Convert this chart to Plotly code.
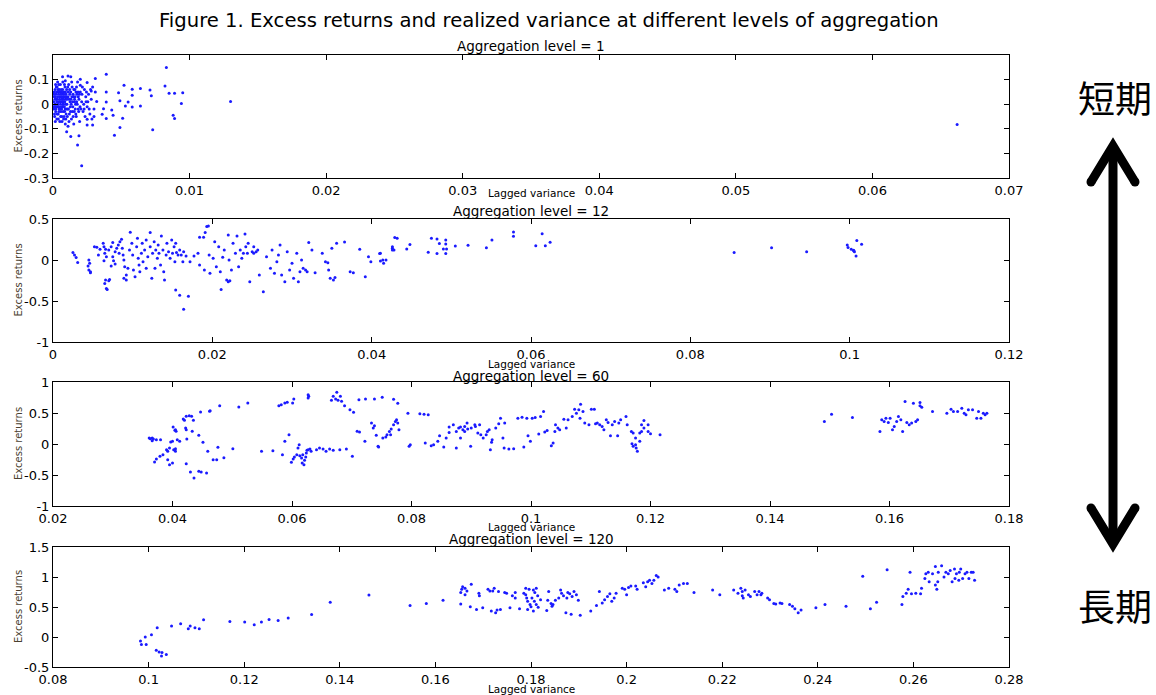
import plotly.graph_objects as go

W, H = 1156, 695

fig_title = "Figure 1. Excess returns and realized variance at different levels of aggregation"
levels = [1, 12, 60, 120]
x_label = "Lagged variance"
y_label = "Excess returns"
short_label = "短期"
long_label = "長期"

# (lagged variance, excess return) at aggregation level 1
level_1_points = [
    (0.0083, 0.149), (0.0130, 0.011), (0.0082, 0.074), (0.0085, 0.045), (0.0089, 0.045),
    (0.0095, 0.047), (0.0094, 0.003), (0.0088, -0.045), (0.0089, -0.058), (0.0073, -0.104),
    (0.0071, 0.058), (0.0072, 0.034), (0.0064, 0.064), (0.0064, -0.007), (0.0058, 0.061),
    (0.0058, 0.036), (0.0052, 0.077), (0.0055, 0.009), (0.0053, -0.007), (0.0058, -0.011),
    (0.0049, 0.014), (0.0048, 0.047), (0.0045, -0.126), (0.0049, -0.095), (0.0051, -0.057),
    (0.0044, -0.045), (0.0043, -0.024), (0.0039, 0.122), (0.0039, 0.050), (0.0039, 0.009),
    (0.0037, -0.018), (0.0036, -0.041), (0.0039, -0.058), (0.0032, 0.011), (0.0031, 0.050),
    (0.0031, 0.104), (0.0025, 0.088), (0.0028, 0.054), (0.0030, -0.050), (0.0029, -0.085),
    (0.0025, -0.085), (0.0025, -0.061), (0.0021, -0.250), (0.0018, -0.166), (0.0019, -0.128),
    (0.0013, -0.131), (0.0010, -0.112), (0.0011, -0.090), (0.0007, 0.112), (0.0011, 0.115),
    (0.0013, 0.112), (0.0009, 0.095), (0.0020, 0.101), (0.0020, 0.077), (0.0662, -0.083),
    (0.00005, 0.01), (0.00008, -0.02), (0.00010, 0.03), (0.00012, -0.05), (0.00015, 0.06),
    (0.00018, 0.00), (0.00020, -0.03), (0.00022, 0.04), (0.00025, 0.02), (0.00028, -0.06),
    (0.00030, 0.07), (0.00032, -0.01), (0.00035, 0.05), (0.00038, -0.04), (0.00040, 0.01),
    (0.00042, 0.08), (0.00045, -0.02), (0.00048, 0.03), (0.00050, -0.07), (0.00052, 0.05),
    (0.00055, 0.00), (0.00058, -0.03), (0.00060, 0.06), (0.00062, 0.02), (0.00065, -0.05),
    (0.00068, 0.04), (0.00070, -0.01), (0.00072, 0.09), (0.00075, 0.03), (0.00078, -0.06),
    (0.00080, 0.01), (0.00082, 0.05), (0.00085, -0.03), (0.00088, 0.07), (0.00090, -0.08),
    (0.00092, 0.02), (0.00095, 0.04), (0.00098, -0.02), (0.00100, 0.06), (0.00105, -0.05),
    (0.00110, 0.03), (0.00115, 0.08), (0.00120, -0.04), (0.00125, 0.01), (0.00130, 0.05),
    (0.00135, -0.06), (0.00140, 0.07), (0.00145, -0.01), (0.00150, 0.03), (0.00155, -0.03),
    (0.00160, 0.06), (0.00165, 0.00), (0.00170, -0.05), (0.00175, 0.04), (0.00180, 0.09),
    (0.00185, -0.02), (0.00190, 0.02), (0.00195, -0.07), (0.00200, 0.05), (0.00210, 0.01),
    (0.00220, -0.03), (0.00230, 0.06), (0.00240, 0.03), (0.00250, -0.01), (0.00260, 0.04),
    (0.00270, -0.04), (0.00280, 0.02), (0.00290, 0.07), (0.00300, -0.02),
    (0.00007, 0.04), (0.00011, -0.04), (0.00014, 0.02), (0.00017, -0.07), (0.00019, 0.08),
    (0.00023, -0.01), (0.00026, 0.05), (0.00029, 0.02), (0.00031, -0.04), (0.00034, 0.09),
    (0.00036, 0.00), (0.00039, -0.06), (0.00041, 0.04), (0.00044, -0.03), (0.00046, 0.06),
    (0.00049, 0.01), (0.00051, -0.02), (0.00054, 0.08), (0.00056, -0.05), (0.00059, 0.03),
    (0.00061, -0.01), (0.00064, 0.05), (0.00066, -0.07), (0.00069, 0.02), (0.00071, 0.06),
    (0.00074, -0.03), (0.00076, 0.00), (0.00079, 0.04), (0.00081, -0.05), (0.00084, 0.08),
    (0.00086, 0.01), (0.00089, -0.02), (0.00091, 0.05), (0.00094, -0.06), (0.00097, 0.03),
    (0.00102, 0.00), (0.00107, -0.02), (0.00112, 0.05), (0.00117, -0.07), (0.00122, 0.06),
    (0.00127, -0.01), (0.00132, 0.02), (0.00137, 0.09), (0.00142, -0.03), (0.00147, 0.04),
    (0.00152, -0.08), (0.00157, 0.01), (0.00162, 0.03), (0.00167, -0.04), (0.00172, 0.07),
    (0.00178, 0.00), (0.00183, 0.05), (0.00188, -0.03), (0.00193, 0.04), (0.00205, -0.02),
    (0.00215, 0.07), (0.00225, 0.00), (0.00235, -0.05), (0.00245, 0.05), (0.00255, 0.01),
    (0.00265, -0.02), (0.00275, 0.06), (0.00285, -0.06),
    (0.00006, -0.01), (0.00009, 0.05), (0.00013, 0.00), (0.00016, 0.03), (0.00021, -0.02),
    (0.00024, 0.07), (0.00027, 0.01), (0.00033, 0.03), (0.00037, 0.06), (0.00043, -0.01),
    (0.00047, 0.02), (0.00053, 0.01), (0.00057, 0.04), (0.00063, -0.02), (0.00067, 0.01),
    (0.00073, 0.00), (0.00077, 0.02), (0.00083, -0.01), (0.00087, 0.03), (0.00093, 0.00),
    (0.00096, -0.04), (0.00103, 0.02), (0.00108, 0.07), (0.00113, -0.02), (0.00118, 0.02),
    (0.00123, 0.04), (0.00128, -0.03), (0.00133, 0.00), (0.00138, 0.03), (0.00143, 0.01),
    (0.00148, -0.05), (0.00153, 0.06), (0.00158, 0.02), (0.00163, -0.02), (0.00168, 0.05),
    (0.00173, 0.01), (0.00185, 0.03), (0.00198, -0.01), (0.00212, 0.04), (0.00228, -0.02),
    (0.00242, 0.01),
]

# aggregation level 12
level_12_points = [
    (0.0025, 0.090), (0.0027, 0.061), (0.0029, 0.029), (0.0031, -0.029), (0.0045, 0.000),
    (0.0046, -0.041), (0.0044, -0.073), (0.0045, -0.122), (0.0047, -0.143), (0.0047, -0.155),
    (0.0052, 0.163), (0.0055, 0.155), (0.0059, 0.131), (0.0057, 0.061), (0.0063, 0.204),
    (0.0064, 0.163), (0.0066, 0.131), (0.0065, 0.082), (0.0067, 0.041), (0.0064, -0.008),
    (0.0066, -0.245), (0.0065, -0.286), (0.0067, -0.347), (0.0068, -0.359), (0.0070, -0.253),
    (0.0071, -0.237), (0.0075, 0.041), (0.0076, -0.008), (0.0078, -0.049), (0.0073, -0.073),
    (0.0070, 0.122), (0.0073, 0.163), (0.0075, 0.212), (0.0078, 0.102), (0.0080, 0.143),
    (0.0082, 0.184), (0.0083, 0.082), (0.0084, 0.224), (0.0086, 0.253), (0.0087, 0.143),
    (0.0088, 0.061), (0.0089, 0.000), (0.0090, -0.082), (0.0092, -0.184), (0.0089, -0.224),
    (0.0092, -0.245), (0.0094, -0.102), (0.0096, 0.122), (0.0097, 0.339), (0.0099, 0.204),
    (0.0100, 0.061), (0.0101, -0.122), (0.0103, -0.204), (0.0105, 0.163), (0.0106, 0.265),
    (0.0107, 0.020), (0.0108, -0.061), (0.0109, -0.143), (0.0111, 0.082), (0.0112, 0.204),
    (0.0113, -0.020), (0.0115, 0.122), (0.0117, 0.245), (0.0117, -0.102), (0.0119, 0.041),
    (0.0122, 0.335), (0.0122, 0.163), (0.0124, -0.224), (0.0125, 0.082), (0.0127, 0.224),
    (0.0128, -0.102), (0.0129, 0.122), (0.0131, 0.020), (0.0132, 0.184), (0.0133, 0.082),
    (0.0135, -0.061), (0.0136, 0.294), (0.0138, 0.122), (0.0139, -0.143), (0.0140, -0.245),
    (0.0142, 0.061), (0.0143, 0.204), (0.0145, 0.102), (0.0147, 0.020), (0.0149, 0.245),
    (0.0150, 0.082), (0.0152, 0.163), (0.0153, -0.020), (0.0154, 0.204), (0.0155, 0.090),
    (0.0157, 0.061), (0.0159, 0.122), (0.0161, 0.061), (0.0163, -0.020), (0.0164, 0.102),
    (0.0167, 0.049), (0.0154, -0.367), (0.0159, -0.429), (0.0170, -0.441), (0.0164, -0.600),
    (0.0172, -0.020), (0.0177, 0.049), (0.0182, 0.082), (0.0184, 0.278), (0.0189, 0.278),
    (0.0191, 0.335), (0.0193, 0.408), (0.0195, 0.416), (0.0184, -0.061), (0.0190, -0.122),
    (0.0196, 0.061), (0.0197, -0.163), (0.0201, 0.020), (0.0203, 0.224), (0.0205, -0.082),
    (0.0208, 0.163), (0.0210, -0.143), (0.0211, -0.359), (0.0213, 0.033), (0.0215, 0.122),
    (0.0218, -0.245), (0.0220, -0.265), (0.0222, -0.253), (0.0220, 0.306), (0.0221, 0.000),
    (0.0224, -0.122), (0.0226, 0.204), (0.0229, 0.082), (0.0231, 0.294), (0.0233, -0.082),
    (0.0235, 0.122), (0.0237, 0.020), (0.0239, 0.082), (0.0241, 0.318), (0.0242, 0.163),
    (0.0244, 0.082), (0.0245, 0.204), (0.0247, -0.265), (0.0250, 0.102), (0.0252, 0.163),
    (0.0252, 0.082), (0.0255, 0.102), (0.0257, 0.122), (0.0259, -0.184), (0.0264, -0.388),
    (0.0268, 0.041), (0.0273, -0.102), (0.0275, 0.122), (0.0278, -0.163), (0.0281, -0.020),
    (0.0283, 0.061), (0.0285, 0.184), (0.0287, -0.184), (0.0291, -0.265), (0.0294, 0.102),
    (0.0297, -0.122), (0.0300, -0.041), (0.0302, -0.224), (0.0306, 0.082), (0.0308, -0.265),
    (0.0310, -0.143), (0.0312, 0.000), (0.0314, -0.102), (0.0317, -0.122), (0.0319, -0.143),
    (0.0321, 0.212), (0.0325, 0.122), (0.0329, -0.155), (0.0338, 0.082), (0.0342, -0.020),
    (0.0345, -0.033), (0.0346, -0.122), (0.0348, -0.224), (0.0352, -0.245), (0.0354, -0.212),
    (0.0350, 0.143), (0.0356, 0.204), (0.0366, 0.220), (0.0373, -0.143), (0.0377, -0.155),
    (0.0385, 0.131), (0.0392, -0.204), (0.0396, 0.041), (0.0399, -0.020), (0.0411, 0.082),
    (0.0411, -0.012), (0.0418, 0.000), (0.0426, 0.143), (0.0428, 0.122), (0.0432, 0.265),
    (0.0429, 0.273), (0.0426, 0.163), (0.0426, 0.122), (0.0414, 0.000), (0.0415, -0.040),
    (0.0410, 0.080), (0.0444, 0.135), (0.0448, 0.190), (0.0471, 0.094), (0.0475, 0.265),
    (0.0482, 0.257), (0.0482, 0.080), (0.0485, 0.200), (0.0493, 0.245), (0.0493, 0.196),
    (0.0494, 0.135), (0.0493, 0.080), (0.0490, 0.135), (0.0505, 0.170), (0.0521, 0.180),
    (0.0544, 0.150), (0.0551, 0.245), (0.0578, 0.340), (0.0578, 0.290), (0.0606, 0.175),
    (0.0614, 0.320), (0.0618, 0.175), (0.0624, 0.216), (0.0855, 0.090), (0.0902, 0.150),
    (0.0946, 0.100), (0.0997, 0.184), (0.0998, 0.151), (0.1005, 0.114), (0.1006, 0.102),
    (0.1008, 0.049), (0.1009, 0.237), (0.1015, 0.192), (0.1002, 0.131), (0.1005, 0.120),
]

# aggregation level 60
level_60_points = [
    (0.0361, 0.097), (0.0363, 0.086), (0.0366, 0.097), (0.0368, 0.081), (0.0366, 0.054),
    (0.0373, 0.070), (0.0380, 0.070), (0.0370, -0.290), (0.0373, -0.242), (0.0379, -0.199),
    (0.0384, -0.172), (0.0392, -0.253), (0.0395, -0.333), (0.0400, -0.306), (0.0390, -0.091),
    (0.0392, -0.118), (0.0395, -0.065), (0.0397, 0.032), (0.0400, 0.043), (0.0402, -0.091),
    (0.0405, -0.118), (0.0405, -0.075), (0.0408, 0.070), (0.0401, 0.274), (0.0405, 0.231),
    (0.0406, 0.204), (0.0404, 0.220), (0.0412, 0.043), (0.0418, 0.403), (0.0420, 0.382),
    (0.0423, 0.446), (0.0428, 0.457), (0.0432, 0.446), (0.0435, 0.382), (0.0422, 0.258),
    (0.0423, 0.231), (0.0424, 0.081), (0.0423, -0.317), (0.0433, 0.204), (0.0444, 0.140),
    (0.0451, 0.027), (0.0459, -0.118), (0.0430, -0.452), (0.0436, -0.548), (0.0444, -0.441),
    (0.0448, -0.452), (0.0457, -0.468), (0.0447, 0.516), (0.0462, 0.527), (0.0463, 0.538),
    (0.0468, -0.253), (0.0474, -0.253), (0.0476, -0.054), (0.0486, -0.220), (0.0479, 0.618),
    (0.0501, -0.075), (0.0511, 0.597), (0.0526, 0.661), (0.0549, -0.118), (0.0568, -0.108),
    (0.0578, 0.618), (0.0582, 0.634), (0.0588, 0.661), (0.0592, 0.672), (0.0601, 0.661),
    (0.0603, 0.726), (0.0584, -0.172), (0.0588, 0.043), (0.0595, 0.151), (0.0599, -0.296),
    (0.0602, -0.242), (0.0604, -0.210), (0.0608, -0.172), (0.0610, -0.065), (0.0612, -0.011),
    (0.0613, -0.188), (0.0616, -0.226), (0.0617, -0.306), (0.0620, -0.333), (0.0621, -0.263),
    (0.0623, -0.210), (0.0624, -0.145), (0.0625, -0.102), (0.0627, -0.091), (0.0618, -0.172),
    (0.0630, -0.081), (0.0632, -0.118), (0.0627, 0.796), (0.0628, 0.769), (0.0627, 0.742),
    (0.0641, -0.091), (0.0646, -0.065), (0.0652, -0.081), (0.0657, -0.118), (0.0663, -0.081),
    (0.0669, -0.102), (0.0680, -0.091), (0.0691, -0.081), (0.0669, 0.769), (0.0673, 0.726),
    (0.0675, 0.833), (0.0677, 0.704), (0.0681, 0.769), (0.0666, 0.704), (0.0683, 0.688),
    (0.0688, 0.618), (0.0697, 0.554), (0.0703, 0.511), (0.0701, -0.199), (0.0712, 0.715),
    (0.0723, 0.726), (0.0738, 0.726), (0.0751, 0.753), (0.0709, 0.204), (0.0713, 0.194),
    (0.0722, 0.043), (0.0733, 0.339), (0.0736, 0.258), (0.0738, 0.296), (0.0741, 0.140),
    (0.0744, -0.038), (0.0757, 0.113), (0.0765, 0.151),
    (0.0770, 0.722), (0.0777, 0.658), (0.0745, -0.048), (0.0752, 0.096), (0.0759, 0.150),
    (0.0763, 0.203), (0.0766, 0.241), (0.0770, 0.310), (0.0773, 0.364), (0.0775, 0.390),
    (0.0777, 0.337), (0.0779, 0.230), (0.0794, 0.497), (0.0798, -0.011), (0.0796, -0.037),
    (0.0814, 0.487), (0.0821, 0.481), (0.0828, 0.471), (0.0823, 0.016), (0.0833, -0.027),
    (0.0837, -0.011), (0.0844, 0.043), (0.0847, 0.134), (0.0854, -0.048), (0.0858, 0.096),
    (0.0863, 0.187), (0.0863, 0.273), (0.0870, 0.310), (0.0875, 0.203), (0.0875, -0.064),
    (0.0879, 0.257), (0.0882, 0.273), (0.0882, 0.096), (0.0886, 0.230), (0.0889, 0.283),
    (0.0889, 0.203), (0.0893, 0.337), (0.0894, 0.241), (0.0899, -0.037), (0.0900, 0.257),
    (0.0906, 0.310), (0.0907, 0.283), (0.0911, 0.176), (0.0914, 0.310), (0.0916, 0.150),
    (0.0920, 0.096), (0.0925, 0.150), (0.0927, 0.203), (0.0930, 0.230), (0.0932, -0.091),
    (0.0934, 0.027), (0.0935, 0.070), (0.0941, 0.257), (0.0946, 0.326), (0.0949, 0.417),
    (0.0953, 0.096), (0.0955, -0.064), (0.0956, 0.337), (0.0963, -0.080), (0.0971, -0.075),
    (0.0978, 0.417), (0.0988, -0.048), (0.0985, 0.433), (0.0993, 0.417), (0.0995, 0.134),
    (0.0999, 0.043), (0.1002, 0.417), (0.1007, 0.428), (0.1013, 0.160), (0.1016, 0.444),
    (0.1021, 0.524), (0.1023, 0.193), (0.1027, 0.219), (0.1034, -0.027), (0.1037, 0.016),
    (0.1040, 0.203), (0.1041, 0.310), (0.1045, 0.257), (0.1048, 0.230), (0.1055, 0.401),
    (0.1059, 0.257), (0.1062, 0.390), (0.1069, 0.444), (0.1073, 0.561), (0.1076, 0.497),
    (0.1080, 0.551), (0.1082, 0.417), (0.1083, 0.642), (0.1087, 0.524), (0.1090, 0.337),
    (0.1097, 0.310), (0.1101, 0.561), (0.1106, 0.561), (0.1108, 0.326), (0.1111, 0.337),
    (0.1115, 0.310), (0.1119, 0.283), (0.1122, 0.230), (0.1126, 0.390), (0.1129, 0.348),
    (0.1133, 0.134), (0.1136, 0.310), (0.1140, 0.364), (0.1145, 0.134), (0.1147, 0.337),
    (0.1150, 0.390), (0.1159, 0.444), (0.1161, 0.310), (0.1168, 0.203), (0.1171, 0.176),
    (0.1175, 0.096), (0.1169, 0.005), (0.1171, -0.037), (0.1175, -0.011), (0.1176, -0.064),
    (0.1178, -0.118), (0.1182, 0.043), (0.1185, 0.203), (0.1189, 0.257), (0.1182, 0.176),
    (0.1185, 0.310), (0.1189, 0.380), (0.1196, 0.310), (0.1200, 0.166), (0.1196, 0.203),
    (0.1216, 0.150),
    (0.1491, 0.364), (0.1503, 0.481), (0.1538, 0.428), (0.1584, 0.203), (0.1587, 0.390),
    (0.1591, 0.364), (0.1594, 0.417), (0.1598, 0.348), (0.1601, 0.417), (0.1605, 0.230),
    (0.1608, 0.283), (0.1612, 0.364), (0.1615, 0.444), (0.1619, 0.390), (0.1622, 0.203),
    (0.1626, 0.684), (0.1629, 0.348), (0.1633, 0.310), (0.1637, 0.337), (0.1640, 0.658),
    (0.1644, 0.364), (0.1647, 0.390), (0.1651, 0.668), (0.1654, 0.594), (0.1651, 0.615),
    (0.1672, 0.524), (0.1696, 0.497), (0.1703, 0.561), (0.1707, 0.524), (0.1714, 0.524),
    (0.1721, 0.578), (0.1725, 0.497), (0.1728, 0.471), (0.1732, 0.551), (0.1739, 0.551),
    (0.1746, 0.417), (0.1749, 0.524), (0.1753, 0.417), (0.1757, 0.497), (0.1760, 0.471),
    (0.1763, 0.497),
]

# aggregation level 120
level_120_points = [
    (0.0983, -0.066), (0.0985, -0.127), (0.0995, -0.127), (0.0993, 0.000), (0.1006, 0.039),
    (0.1018, 0.155), (0.1016, -0.221), (0.1022, -0.249), (0.1027, -0.315), (0.1028, -0.260),
    (0.1037, -0.293), (0.1048, 0.182), (0.1067, 0.221), (0.1083, 0.138), (0.1087, 0.182),
    (0.1097, 0.155), (0.1106, 0.138), (0.1115, 0.287), (0.1170, 0.260), (0.1201, 0.249),
    (0.1221, 0.204), (0.1236, 0.249), (0.1252, 0.293), (0.1271, 0.276), (0.1292, 0.315),
    (0.1341, 0.376), (0.1380, 0.580), (0.1461, 0.702),
    (0.1547, 0.524), (0.1581, 0.557), (0.1616, 0.611), (0.1653, 0.551), (0.1653, 0.741),
    (0.1655, 0.795), (0.1657, 0.838), (0.1662, 0.811), (0.1666, 0.768), (0.1662, 0.703),
    (0.1675, 0.881), (0.1673, 0.503), (0.1686, 0.459), (0.1691, 0.730), (0.1692, 0.686),
    (0.1699, 0.486), (0.1710, 0.795), (0.1714, 0.768), (0.1717, 0.432), (0.1720, 0.768),
    (0.1723, 0.811), (0.1726, 0.405), (0.1729, 0.449), (0.1732, 0.757), (0.1736, 0.459),
    (0.1745, 0.741), (0.1749, 0.730), (0.1756, 0.486), (0.1761, 0.686), (0.1767, 0.649),
    (0.1767, 0.741), (0.1776, 0.470), (0.1785, 0.730), (0.1789, 0.811), (0.1789, 0.703),
    (0.1791, 0.649), (0.1793, 0.459), (0.1793, 0.595), (0.1798, 0.541), (0.1796, 0.795),
    (0.1800, 0.503), (0.1802, 0.649), (0.1805, 0.784), (0.1805, 0.432), (0.1807, 0.595),
    (0.1808, 0.741), (0.1811, 0.811), (0.1811, 0.541), (0.1814, 0.686), (0.1815, 0.497),
    (0.1820, 0.622), (0.1833, 0.443), (0.1835, 0.611), (0.1837, 0.757), (0.1842, 0.557),
    (0.1844, 0.514), (0.1846, 0.541), (0.1851, 0.611), (0.1858, 0.649), (0.1862, 0.784),
    (0.1864, 0.730), (0.1868, 0.686), (0.1873, 0.405), (0.1875, 0.649), (0.1877, 0.741),
    (0.1881, 0.719), (0.1884, 0.378), (0.1886, 0.676), (0.1890, 0.757), (0.1895, 0.703),
    (0.1899, 0.611), (0.1903, 0.362), (0.1925, 0.432), (0.1937, 0.524), (0.1943, 0.757),
    (0.1949, 0.568), (0.1954, 0.622), (0.1960, 0.676), (0.1965, 0.719), (0.1969, 0.595),
    (0.1974, 0.649), (0.1978, 0.730), (0.1991, 0.811), (0.1996, 0.795), (0.2000, 0.703),
    (0.2004, 0.827), (0.2009, 0.849), (0.2019, 0.849), (0.2022, 0.795), (0.2035, 0.903),
    (0.2040, 0.838), (0.2044, 0.919), (0.2048, 0.946), (0.2053, 0.892), (0.2057, 0.946),
    (0.2062, 1.027), (0.2066, 1.000), (0.2079, 0.784), (0.2088, 0.811), (0.2101, 0.795),
    (0.2105, 0.757), (0.2110, 0.865), (0.2119, 0.892), (0.2127, 0.892), (0.2141, 0.741),
    (0.2180, 0.784), (0.2195, 0.703), (0.2224, 0.784), (0.2233, 0.730), (0.2239, 0.811),
    (0.2242, 0.757), (0.2242, 0.686), (0.2244, 0.649), (0.2248, 0.784), (0.2255, 0.703),
    (0.2259, 0.676), (0.2268, 0.757), (0.2273, 0.703), (0.2277, 0.757), (0.2281, 0.703),
    (0.2283, 0.730), (0.2295, 0.649), (0.2299, 0.622), (0.2308, 0.557), (0.2312, 0.551),
    (0.2321, 0.568), (0.2325, 0.557), (0.2341, 0.541), (0.2347, 0.514), (0.2352, 0.470),
    (0.2359, 0.405), (0.2365, 0.449), (0.2396, 0.486), (0.2415, 0.541), (0.2459, 0.514),
    (0.2494, 1.011), (0.2510, 0.470), (0.2523, 0.578), (0.2545, 1.119), (0.2576, 0.541),
    (0.2578, 0.676), (0.2585, 0.730), (0.2589, 0.795), (0.2593, 1.081), (0.2596, 0.719),
    (0.2605, 0.730), (0.2615, 0.719), (0.2617, 0.811), (0.2624, 0.973), (0.2626, 1.054),
    (0.2631, 1.081), (0.2633, 0.919), (0.2640, 1.054), (0.2646, 1.173), (0.2646, 0.865),
    (0.2649, 0.795), (0.2651, 0.919), (0.2652, 1.081), (0.2659, 1.189), (0.2664, 1.000),
    (0.2668, 1.081), (0.2673, 1.054), (0.2677, 1.108), (0.2681, 0.919), (0.2686, 1.135),
    (0.2687, 0.973), (0.2690, 1.054), (0.2695, 0.946), (0.2696, 1.081), (0.2699, 1.135),
    (0.2703, 0.973), (0.2708, 1.054), (0.2712, 1.081), (0.2716, 0.973), (0.2721, 1.081),
    (0.2725, 1.081), (0.2728, 0.946),
]

x_ranges = [[0, 0.07], [0, 0.12], [0.02, 0.18], [0.08, 0.28]]
y_ranges = [[-0.3, 0.2], [-1, 0.5], [-1, 1], [-0.5, 1.5]]
x_ticks = [
    [0, 0.01, 0.02, 0.03, 0.04, 0.05, 0.06, 0.07],
    [0, 0.02, 0.04, 0.06, 0.08, 0.1, 0.12],
    [0.02, 0.04, 0.06, 0.08, 0.1, 0.12, 0.14, 0.16, 0.18],
    [0.08, 0.1, 0.12, 0.14, 0.16, 0.18, 0.2, 0.22, 0.24, 0.26, 0.28],
]
y_ticks = [
    [-0.3, -0.2, -0.1, 0, 0.1],
    [-1, -0.5, 0, 0.5],
    [-1, -0.5, 0, 0.5, 1],
    [-0.5, 0, 0.5, 1, 1.5],
]
all_points = [level_1_points, level_12_points, level_60_points, level_120_points]

# ---- layout geometry (pixel boxes of each panel) ----
plot_left, plot_right = 53, 1009
panel_boxes = [(55, 178), (219, 342), (382, 506), (547, 667)]  # top, bottom
subtitle_y = [46, 211, 376, 539]
xlabel_y = [193, 364, 527, 689]


def fx(px):
    return px / W


def fy(py):
    return 1 - py / H


def fmt(v):
    return f"{round(v, 4):g}"


FONT = "DejaVu Sans, Verdana, sans-serif"
DOT = "#1a1aff"

fig = go.Figure()
layout = dict(
    width=W, height=H,
    margin=dict(l=0, r=0, t=0, b=0, autoexpand=False),
    paper_bgcolor="white", plot_bgcolor="white",
    showlegend=False,
    font=dict(family=FONT, color="black", size=12),
)

annotations = []
for i, pts in enumerate(all_points):
    n = "" if i == 0 else str(i + 1)
    xs = [p[0] for p in pts]
    ys = [p[1] for p in pts]
    fig.add_trace(go.Scatter(
        x=xs, y=ys, mode="markers",
        marker=dict(size=3, color=DOT, line=dict(width=0)),
        xaxis="x" + n, yaxis="y" + n, hoverinfo="skip",
    ))
    top, bot = panel_boxes[i]
    axis_common = dict(
        showline=True, linecolor="black", linewidth=1, mirror="ticks",
        ticks="inside", ticklen=5, tickwidth=1, tickcolor="black",
        showgrid=False, zeroline=False, automargin=False,
        tickfont=dict(family=FONT, size=13, color="black"),
    )
    layout["xaxis" + n] = dict(
        axis_common, domain=[fx(plot_left), fx(plot_right)], range=x_ranges[i],
        anchor="y" + n, tickmode="array", tickvals=x_ticks[i],
        ticktext=[fmt(v) for v in x_ticks[i]],
    )
    layout["yaxis" + n] = dict(
        axis_common, domain=[fy(bot), fy(top)], range=y_ranges[i],
        anchor="x" + n, tickmode="array", tickvals=y_ticks[i],
        ticktext=[fmt(v) for v in y_ticks[i]],
    )
    mid = (plot_left + plot_right) / 2
    annotations.append(dict(
        text=f"Aggregation level = {levels[i]}", x=fx(mid), y=fy(subtitle_y[i]),
        xref="paper", yref="paper", showarrow=False, xanchor="center", yanchor="middle",
        font=dict(family=FONT, size=13.5, color="black"),
    ))
    annotations.append(dict(
        text=x_label, x=fx(mid), y=fy(xlabel_y[i]),
        xref="paper", yref="paper", showarrow=False, xanchor="center", yanchor="middle",
        font=dict(family=FONT, size=10.5, color="black"),
    ))
    annotations.append(dict(
        text=y_label, x=fx(18), y=fy((top + bot) / 2), textangle=-90,
        xref="paper", yref="paper", showarrow=False, xanchor="center", yanchor="middle",
        font=dict(family=FONT, size=10, color="#4a4030"),
    ))

annotations.append(dict(
    text=fig_title, x=fx(549), y=fy(20), xref="paper", yref="paper",
    showarrow=False, xanchor="center", yanchor="middle",
    font=dict(family=FONT, size=19.6, color="black"),
))
for txt, yy in [(short_label, 97), (long_label, 605)]:
    annotations.append(dict(
        text=txt, x=fx(1115), y=fy(yy), xref="paper", yref="paper",
        showarrow=False, xanchor="center", yanchor="middle",
        font=dict(family="Noto Sans CJK JP, sans-serif", size=37, color="black"),
    ))
layout["annotations"] = annotations

# double-headed arrow between the two labels
ax, a_top, a_bot, arm_dx, arm_dy, lw = 1113, 146, 544, 22, 36, 9
shapes = [
    dict(type="line", xref="paper", yref="paper", x0=fx(ax), x1=fx(ax),
         y0=fy(a_top + 4), y1=fy(a_bot - 4), line=dict(color="black", width=lw)),
    dict(type="path", xref="paper", yref="paper",
         path=f"M {fx(ax - arm_dx)},{fy(a_top + arm_dy)} L {fx(ax)},{fy(a_top)} "
              f"L {fx(ax + arm_dx)},{fy(a_top + arm_dy)}",
         line=dict(color="black", width=lw)),
    dict(type="path", xref="paper", yref="paper",
         path=f"M {fx(ax - arm_dx)},{fy(a_bot - arm_dy)} L {fx(ax)},{fy(a_bot)} "
              f"L {fx(ax + arm_dx)},{fy(a_bot - arm_dy)}",
         line=dict(color="black", width=lw)),
]
r = lw / 2
for cx, cy in [(ax - arm_dx, a_top + arm_dy), (ax + arm_dx, a_top + arm_dy),
               (ax - arm_dx, a_bot - arm_dy), (ax + arm_dx, a_bot - arm_dy)]:
    shapes.append(dict(type="circle", xref="paper", yref="paper",
                       x0=fx(cx - r), x1=fx(cx + r), y0=fy(cy + r), y1=fy(cy - r),
                       fillcolor="black", line=dict(width=0)))
layout["shapes"] = shapes

fig.update_layout(**layout)
fig.write_html("out.html")
